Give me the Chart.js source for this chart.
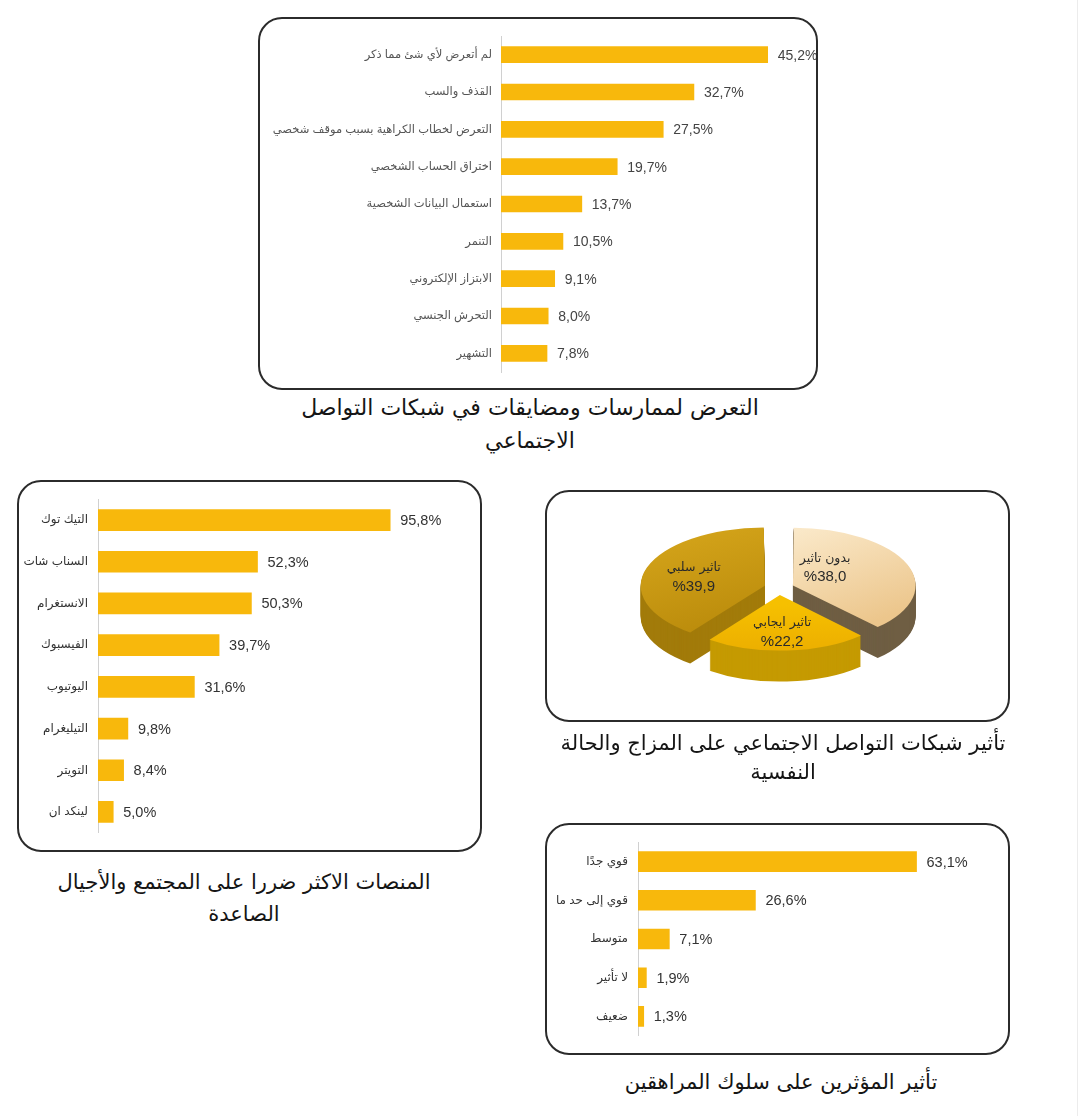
<!DOCTYPE html>
<html lang="ar">
<head>
<meta charset="utf-8">
<script src="https://cdn.jsdelivr.net/npm/chart.js@4.4.1/dist/chart.umd.min.js"></script>
<style>
body{margin:0;background:#fff;width:1080px;height:1116px;position:relative;overflow:hidden;font-family:'DejaVu Sans',sans-serif}
.box{position:absolute;box-sizing:border-box;border:2px solid #2b2b2b;border-radius:24px;background:#fff}
.box canvas{position:absolute;left:0;top:0}
.cap{position:absolute;text-align:center;font-size:21px;color:#151515;white-space:nowrap}
.edge{position:absolute;left:1077px;top:0;width:1px;height:1116px;background:#ececec}
</style>
</head>
<body>
<div class="edge"></div>

<div class="box" style="left:258px;top:17px;width:560px;height:373px"><canvas id="exposure" width="556" height="369"></canvas></div>
<div class="cap" dir="rtl" style="left:280px;top:391px;width:500px;line-height:33px;font-size:22px">التعرض لممارسات ومضايقات في شبكات التواصل<br>الاجتماعي</div>

<div class="box" style="left:17px;top:480px;width:465px;height:372px"><canvas id="platforms" width="461" height="368"></canvas></div>
<div class="cap" dir="rtl" style="left:4px;top:866px;width:480px;line-height:32px">المنصات الاكثر ضررا على  المجتمع والأجيال<br>الصاعدة</div>

<div class="box" style="left:545px;top:490px;width:465px;height:232px"><canvas id="mood" width="320" height="320" style="left:72px;top:-64px"></canvas></div>
<div class="cap" dir="rtl" style="left:543px;top:729px;width:480px;line-height:29px">تأثير شبكات التواصل الاجتماعي على المزاج والحالة<br>النفسية</div>

<div class="box" style="left:545px;top:823px;width:465px;height:232px"><canvas id="influence" width="461" height="228"></canvas></div>
<div class="cap" dir="rtl" style="left:541px;top:1066px;width:480px;line-height:32px">تأثير المؤثرين على سلوك المراهقين</div>

<script>
// data
const exposureLabels = ['لم أتعرض لأي شئ مما ذكر', 'القذف والسب', 'التعرض لخطاب الكراهية بسبب موقف شخصي', 'اختراق الحساب الشخصي', 'استعمال البيانات الشخصية', 'التنمر', 'الابتزاز الإلكتروني', 'التحرش الجنسي', 'التشهير'];
const exposureValues = [45.2, 32.7, 27.5, 19.7, 13.7, 10.5, 9.1, 8.0, 7.8];

const platformLabels = ['التيك توك', 'السناب شات', 'الانستغرام', 'الفيسبوك', 'اليوتيوب', 'التيليغرام', 'التويتر', 'لينكد ان'];
const platformValues = [95.8, 52.3, 50.3, 39.7, 31.6, 9.8, 8.4, 5.0];

const moodLabels = ['بدون تاثير', 'تاثير ايجابي', 'تاثير سلبي'];
const moodValues = [38.0, 22.2, 39.9];

const influenceLabels = ['قوي جدًا', 'قوي إلى حد ما', 'متوسط', 'لا تأثير', 'ضعيف'];
const influenceValues = [63.1, 26.6, 7.1, 1.9, 1.3];

Chart.defaults.font.family = "'Liberation Sans', 'DejaVu Sans', sans-serif";

function fmt(v) { return v.toFixed(1).replace('.', ','); }

// value text at the end of each bar
const valueLabels = {
  id: 'valueLabels',
  afterDatasetsDraw(chart, args, opts) {
    const ctx = chart.ctx;
    ctx.save();
    ctx.font = opts.size + "px 'Liberation Sans', sans-serif";
    ctx.fillStyle = opts.color;
    ctx.textAlign = 'left';
    ctx.textBaseline = 'middle';
    chart.getDatasetMeta(0).data.forEach(function(bar, i) {
      ctx.fillText(fmt(chart.data.datasets[0].data[i]) + '%', bar.x + 10, bar.y + 1);
    });
    ctx.restore();
  }
};

function barChart(id, labels, values, o) {
  return new Chart(document.getElementById(id), {
    type: 'bar',
    data: {labels: labels, datasets: [{data: values, backgroundColor: '#f8b80c', barThickness: o.thick}]},
    options: {
      indexAxis: 'y',
      responsive: false,
      animation: false,
      layout: {padding: {top: o.top, bottom: o.bottom, right: o.right, left: 0}},
      plugins: {
        legend: {display: false},
        tooltip: {enabled: false},
        valueLabels: {size: o.valSize, color: o.valColor}
      },
      scales: {
        x: {display: false, min: 0, max: o.max},
        y: {
          grid: {drawOnChartArea: false, drawTicks: false},
          border: {color: '#d0d0d0', width: 1},
          ticks: {color: o.tickColor, padding: o.pad, font: {size: o.tickSize}},
          afterFit: function(s) { s.width = o.axisX; }
        }
      }
    },
    plugins: [valueLabels]
  });
}

barChart('exposure', exposureLabels, exposureValues,
  {thick: 16, top: 17, bottom: 16, right: 20, max: 50, axisX: 241, pad: 9, tickSize: 11.5, tickColor: '#555', valSize: 14, valColor: '#444'});
barChart('platforms', platformLabels, platformValues,
  {thick: 21, top: 16, bottom: 15, right: 77, max: 100, axisX: 79, pad: 10, tickSize: 12, tickColor: '#333', valSize: 14.5, valColor: '#333'});
barChart('influence', influenceLabels, influenceValues,
  {thick: 20, top: 16, bottom: 13, right: 61, max: 70, axisX: 91, pad: 10, tickSize: 12, tickColor: '#333', valSize: 14.5, valColor: '#333'});

// tilted pie with a side wall
const pie3d = {
  id: 'pie3d',
  beforeDatasetsDraw(chart, args, opts) {
    const ctx = chart.ctx, a = chart.chartArea;
    const cx = (a.left + a.right) / 2, cy = (a.top + a.bottom) / 2;
    ctx.save();
    ctx.translate(cx, cy);
    ctx.scale(1, opts.tilt);
    ctx.translate(-cx, -cy);
    const arcs = chart.getDatasetMeta(0).data;
    for (let d = opts.depth; d > 0; d--) {
      arcs.forEach(function(arc, i) {
        const keep = arc.options;
        arc.options = Object.assign({}, keep, {backgroundColor: opts.sides[i], borderColor: opts.sides[i]});
        ctx.save();
        ctx.translate(0, d / opts.tilt);
        arc.draw(ctx);
        ctx.restore();
        arc.options = keep;
      });
    }
  },
  afterDatasetsDraw(chart) {
    chart.ctx.restore();
  },
  afterDraw(chart, args, opts) {
    const ctx = chart.ctx, a = chart.chartArea;
    const cx = (a.left + a.right) / 2, cy = (a.top + a.bottom) / 2;
    ctx.save();
    ctx.fillStyle = '#2a2a2a';
    ctx.textAlign = 'center';
    ctx.textBaseline = 'middle';
    chart.getDatasetMeta(0).data.forEach(function(arc, i) {
      const mid = (arc.startAngle + arc.endAngle) / 2;
      const circ = arc.endAngle - arc.startAngle;
      const shift = arc.options.offset / 4 * (2 - Math.sin(Math.min(Math.PI, circ)));
      const r = shift + arc.outerRadius * 0.6;
      const x = cx + Math.cos(mid) * r + opts.nudge[i][0];
      const y = cy + Math.sin(mid) * r * opts.tilt + opts.nudge[i][1];
      ctx.direction = 'rtl';
      ctx.font = "12.5px 'DejaVu Sans', sans-serif";
      ctx.fillText(chart.data.labels[i], x, y - 9);
      ctx.direction = 'ltr';
      ctx.font = "15px 'Liberation Sans', sans-serif";
      ctx.fillText('%' + fmt(chart.data.datasets[0].data[i]), x, y + 10);
    });
    ctx.restore();
  }
};

const moodCanvas = document.getElementById('mood');
const mctx = moodCanvas.getContext('2d');
function grad(x0, y0, x1, y1, c0, c1) {
  const g = mctx.createLinearGradient(x0, y0, x1, y1);
  g.addColorStop(0, c0);
  g.addColorStop(1, c1);
  return g;
}
const moodFaces = [
  grad(170, 40, 290, 200, '#fae8c8', '#ecc68c'),
  grad(160, 180, 160, 300, '#f6c000', '#eaab00'),
  grad(40, 60, 150, 260, '#d4a41a', '#b8890a')
];

new Chart(moodCanvas, {
  type: 'pie',
  data: {
    labels: moodLabels,
    datasets: [{
      data: moodValues,
      backgroundColor: moodFaces,
      borderWidth: 0,
      offset: 60,
      radius: 118,
      clip: false
    }]
  },
  options: {
    responsive: false,
    animation: false,
    radius: 118,
    plugins: {
      legend: {display: false},
      tooltip: {enabled: false},
      pie3d: {tilt: 0.47, depth: 31, sides: ['#6f5e43', '#c59a02', '#a27b0a'], nudge: [[-38, -5], [-2, 3], [2, 2]]}
    }
  },
  plugins: [pie3d]
});
</script>
</body>
</html>
